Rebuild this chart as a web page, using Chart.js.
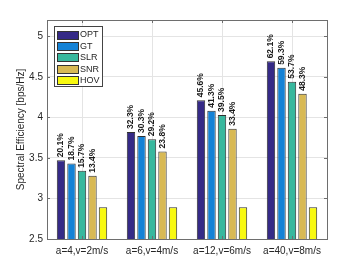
<!DOCTYPE html>
<html>
<head>
    <meta charset="UTF-8">
    <title>Spectral Efficiency</title>
    <script src="https://cdn.jsdelivr.net/npm/chart.js@4.4.0/dist/chart.umd.min.js"></script>
    <style type="text/css">
        body { margin:0px; padding:0px; background:#fff; }
        #wrap { width:361px; height:270px; }
    </style>
</head>
<body>
<div id="wrap"><canvas id="seChart" width="361" height="270"></canvas></div>
<script type="text/javascript">

var scenarios = ["a=4,v=2m/s", "a=6,v=4m/s", "a=12,v=6m/s", "a=40,v=8m/s"];
var schemes = ["OPT", "GT", "SLR", "SNR", "HOV"];
var colors = ["#352a87", "#1482d6", "#38b89e", "#d8b954", "#f8f910"];

// spectral efficiency per scheme [bps/Hz]
var opt = [3.47, 3.82, 4.21, 4.69];
var gt  = [3.43, 3.77, 4.08, 4.61];
var slr = [3.34, 3.73, 4.03, 4.44];
var snr = [3.28, 3.58, 3.86, 4.29];
var hov = [2.89, 2.89, 2.89, 2.89];

// gain over HOV, printed above bars
var optGain = ["20.1%", "32.3%", "45.6%", "62.1%"];
var gtGain  = ["18.7%", "30.3%", "41.3%", "59.3%"];
var slrGain = ["15.7%", "29.2%", "39.5%", "53.7%"];
var snrGain = ["13.4%", "23.8%", "33.4%", "48.3%"];

var yTicks = [2.5, 3, 3.5, 4, 4.5, 5];

var series = [opt, gt, slr, snr, hov];
var gains = [optGain, gtGain, slrGain, snrGain];

var txt = "#262626";
var axisCol = "#6e6e6e";

// percent labels, rotated, just above bars
var gainLabels = {
    id: 'gainLabels',
    afterDatasetsDraw: function (chart) {
        var ctx = chart.ctx;
        ctx.save();
        ctx.font = "bold 8.5px 'Liberation Sans', Arial, sans-serif";
        ctx.fillStyle = "#1a1a1a";
        ctx.textAlign = "left";
        ctx.textBaseline = "middle";
        gains.forEach(function (g, i) {
            chart.getDatasetMeta(i).data.forEach(function (bar, j) {
                ctx.save();
                ctx.translate(bar.x, bar.y - 3);
                ctx.rotate(-Math.PI / 2);
                ctx.fillText(g[j], 0, 0);
                ctx.restore();
            });
        });
        ctx.restore();
    }
};

// matlab style box, inward ticks and legend inside the axes
var boxAndLegend = {
    id: 'boxAndLegend',
    afterDraw: function (chart) {
        var ctx = chart.ctx;
        var a = chart.chartArea;
        var xs = chart.scales.x, ys = chart.scales.y;
        ctx.save();
        ctx.strokeStyle = axisCol;
        ctx.lineWidth = 1;
        ctx.strokeRect(Math.round(a.left) + 0.5, Math.round(a.top) + 0.5,
            Math.round(a.right - a.left), Math.round(a.bottom - a.top));
        ctx.beginPath();
        yTicks.forEach(function (v) {
            var y = Math.round(ys.getPixelForValue(v)) + 0.5;
            ctx.moveTo(a.left, y); ctx.lineTo(a.left + 3, y);
            ctx.moveTo(a.right, y); ctx.lineTo(a.right - 3, y);
        });
        scenarios.forEach(function (s, i) {
            var x = Math.round(xs.getPixelForValue(i)) + 0.5;
            ctx.moveTo(x, a.bottom); ctx.lineTo(x, a.bottom - 3);
            ctx.moveTo(x, a.top); ctx.lineTo(x, a.top + 3);
        });
        ctx.stroke();

        // legend
        var lx = a.left + 7, ly = a.top + 6;
        ctx.fillStyle = "#fff";
        ctx.fillRect(lx + 0.5, ly + 0.5, 48, 60);
        ctx.strokeStyle = "#444";
        ctx.strokeRect(lx + 0.5, ly + 0.5, 48, 60);
        ctx.font = "9px 'Liberation Sans', Arial, sans-serif";
        ctx.textBaseline = "middle";
        ctx.textAlign = "left";
        chart.data.datasets.forEach(function (ds, i) {
            var cy = ly + 8.5 + i * 11.4;
            ctx.fillStyle = ds.backgroundColor;
            ctx.fillRect(lx + 3.5, Math.round(cy - 4) + 0.5, 21, 8);
            ctx.strokeStyle = "#333";
            ctx.strokeRect(lx + 3.5, Math.round(cy - 4) + 0.5, 21, 8);
            ctx.fillStyle = txt;
            ctx.fillText(ds.label, lx + 26, cy + 0.5);
        });
        ctx.restore();
    }
};

var ctx = document.getElementById('seChart').getContext('2d');
var seChart = new Chart(ctx, {
    type: 'bar',
    data: {
        labels: scenarios,
        datasets: schemes.map(function (name, i) {
            return {
                label: name,
                data: series[i],
                backgroundColor: colors[i],
                borderColor: "#303030",
                borderWidth: 1,
                categoryPercentage: 0.75,
                barPercentage: 0.8
            };
        })
    },
    options: {
        responsive: false,
        animation: false,
        layout: { padding: { top: 20, right: 34, left: 0, bottom: 0 } },
        plugins: {
            legend: { display: false },
            tooltip: { enabled: false }
        },
        scales: {
            x: {
                grid: { offset: false, color: "#e4e4e4", drawTicks: false },
                border: { display: false },
                ticks: {
                    color: txt,
                    padding: 6,
                    maxRotation: 0,
                    font: { family: "'Liberation Sans', Arial, sans-serif", size: 10 }
                },
                afterFit: function (s) { s.height = 31; }
            },
            y: {
                min: 2.5,
                max: 5.2,
                grid: { color: "#e4e4e4", drawTicks: false },
                border: { display: false },
                afterBuildTicks: function (s) {
                    s.ticks = yTicks.map(function (v) { return { value: v }; });
                },
                ticks: {
                    color: txt,
                    padding: 4,
                    font: { family: "'Liberation Sans', Arial, sans-serif", size: 10 },
                    callback: function (v) { return String(v); }
                },
                title: {
                    display: true,
                    text: "Spectral Efficiency [bps/Hz]",
                    color: txt,
                    padding: { top: 15, bottom: 0 },
                    font: { family: "'Liberation Sans', Arial, sans-serif", size: 10 }
                },
                afterFit: function (s) { s.width = 47; }
            }
        }
    },
    plugins: [gainLabels, boxAndLegend]
});
</script>
</body>
</html>
